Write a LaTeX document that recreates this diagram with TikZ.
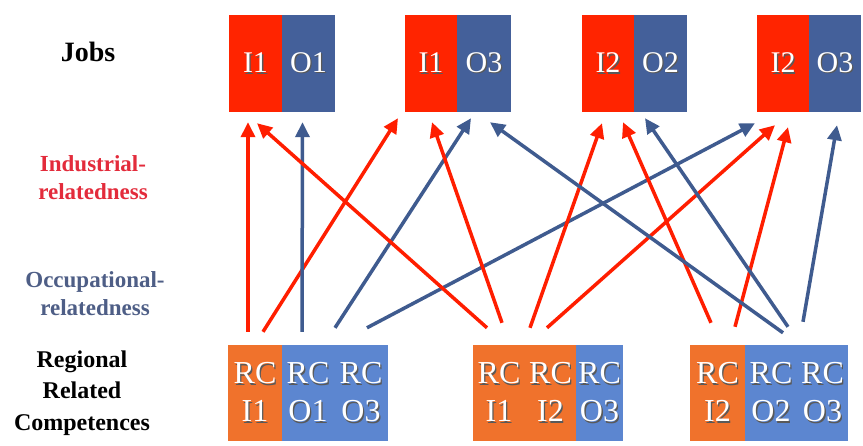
\documentclass[tikz,border=0pt]{standalone}
\usepackage{fontspec}
\setmainfont{Liberation Serif}
\usetikzlibrary{arrows.meta,calc}
\definecolor{jobred}{HTML}{FF2400}
\definecolor{jobblue}{HTML}{44609A}
\definecolor{rcorange}{HTML}{F0722C}
\definecolor{rcblue}{HTML}{5C86D0}
\definecolor{arrred}{HTML}{FF1E00}
\definecolor{arrblue}{HTML}{3F5B8F}
\definecolor{indred}{HTML}{E32B3B}
\definecolor{occblue}{HTML}{4E5E86}
\newcommand\shd[1]{\leavevmode\rlap{\hspace{1.3pt}\raisebox{-1.3pt}{\textcolor{black!65}{#1}}}#1}
\begin{document}
\begin{tikzpicture}[x=1pt,y=-1pt,
  jobbox/.style={rectangle,inner sep=0pt,minimum height=97pt,text=white,
    font=\fontsize{30}{36}\selectfont},
  rcbox/.style={rectangle,inner sep=0pt,minimum height=96pt,text=white,align=center,
    font=\fontsize{32}{38}\selectfont},
  lbl/.style={align=center,font=\bfseries\fontsize{23}{28}\selectfont},
  redarr/.style={draw=arrred,line width=3.5pt,-{Triangle[length=15pt,width=14pt]}},
  bluearr/.style={draw=arrblue,line width=3.5pt,-{Triangle[length=15pt,width=14pt]}}]
\useasboundingbox (0,0) rectangle (863,446);
\fill[white] (0,0) rectangle (863,446);
% left labels
\node[lbl,font=\bfseries\fontsize{28}{32}\selectfont] (jobs) at (88,52) {Jobs};
\node[lbl,text=indred] (ind) at (93,178) {Industrial-\\relatedness};
\node[lbl,text=occblue] (occ) at (95,294) {Occupational-\\relatedness};
\node[lbl,font=\bfseries\fontsize{24}{31.5}\selectfont] (reg) at (82,393) {Regional\\Related\\Competences};
% job boxes
\node[jobbox,fill=jobred,minimum width=53pt] (J1i) at (255.5,63.5) {\shd{I1}};
\node[jobbox,fill=jobblue,minimum width=53pt] (J1o) at (308.5,63.5) {\shd{O1}};
\node[jobbox,fill=jobred,minimum width=52pt] (J2i) at (431,63.5) {\shd{I1}};
\node[jobbox,fill=jobblue,minimum width=54pt] (J2o) at (484,63.5) {\shd{O3}};
\node[jobbox,fill=jobred,minimum width=52pt] (J3i) at (608,63.5) {\shd{I2}};
\node[jobbox,fill=jobblue,minimum width=53pt] (J3o) at (660.5,63.5) {\shd{O2}};
\node[jobbox,fill=jobred,minimum width=52pt] (J4i) at (783,63.5) {\shd{I2}};
\node[jobbox,fill=jobblue,minimum width=52pt] (J4o) at (835,63.5) {\shd{O3}};
% regional competence boxes
\node[rcbox,fill=rcorange,minimum width=54pt] (A1) at (255,393) {\shd{RC}\\\shd{I1}};
\node[rcbox,fill=rcblue,minimum width=52.2pt] (A2) at (308,393) {\shd{RC}\\\shd{O1}};
\node[rcbox,fill=rcblue,minimum width=54pt] (A3) at (361,393) {\shd{RC}\\\shd{O3}};
\node[rcbox,fill=rcorange,minimum width=52.2pt] (B1) at (499,393) {\shd{RC}\\\shd{I1}};
\node[rcbox,fill=rcorange,minimum width=51.2pt] (B2) at (550.5,393) {\shd{RC}\\\shd{I2}};
\node[rcbox,fill=rcblue,minimum width=47pt] (B3) at (599.5,393) {\shd{RC}\\\shd{O3}};
\node[rcbox,fill=rcorange,minimum width=55.2pt] (C1) at (717.5,393) {\shd{RC}\\\shd{I2}};
\node[rcbox,fill=rcblue,minimum width=52.2pt] (C2) at (771,393) {\shd{RC}\\\shd{O2}};
\node[rcbox,fill=rcblue,minimum width=51pt] (C3) at (822.5,393) {\shd{RC}\\\shd{O3}};
% connectors
\draw[redarr]  ($(A1.north)+(-7,-13)$)   -- ($(J1i.south)+(-7.5,10)$);
\draw[redarr]  ($(A1.north)+(8,-13)$)    -- ($(J2i.south)+(-33,6)$);
\draw[bluearr] ($(A2.north)+(-6,-13)$)   -- ($(J1o.south)+(-6,10)$);
\draw[bluearr] ($(A3.north)+(-26,-17)$)  -- ($(J2o.south)+(-13,6)$);
\draw[bluearr] ($(A3.north)+(6,-17)$)    -- ($(J4i.south)+(-28,11)$);
\draw[redarr]  ($(B1.north)+(-12,-17)$)  -- ($(J1i.south)+(1.5,11)$);
\draw[redarr]  ($(B1.north)+(3,-22)$)    -- ($(J2i.south)+(1,10)$);
\draw[redarr]  ($(B2.north)+(-20.5,-17)$) -- ($(J3i.south)+(-6,11)$);
\draw[redarr]  ($(B2.north)+(-3.5,-17)$) -- ($(J4i.south)+(-8,13)$);
\draw[redarr]  ($(C1.north)+(-6.5,-22)$) -- ($(J3i.south)+(15,10)$);
\draw[redarr]  ($(C1.north)+(17.5,-18)$) -- ($(J4i.south)+(5,15)$);
\draw[bluearr] ($(C2.north)+(12,-12)$)   -- ($(J2o.south)+(6,10)$);
\draw[bluearr] ($(C2.north)+(17,-18)$)   -- ($(J3o.south)+(-15.5,6)$);
\draw[bluearr] ($(C3.north)+(-19.5,-23)$) -- ($(J4o.south)+(2,13)$);
\end{tikzpicture}
\end{document}
